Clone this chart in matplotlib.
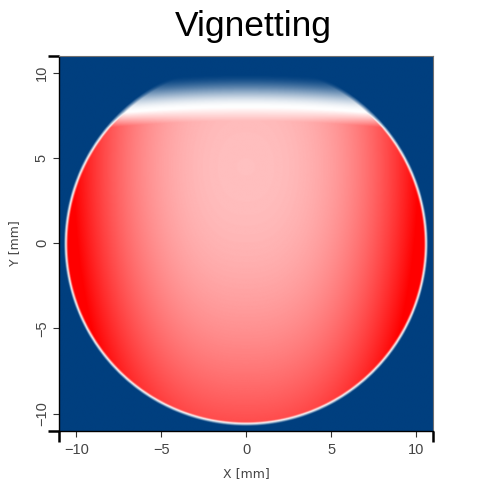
import numpy as np
import matplotlib.pyplot as plt
from matplotlib.colors import LinearSegmentedColormap

# vignetting map, described by a few values
x_range = [-11.0, 11.0]
y_range = [-11.0, 11.0]
aperture_radius = 10.6
aperture_center = [0.0, 0.0]
edge_width = 0.25
# level inside the pupil along y (x = 0) and extra rise towards the x edges
level_y = [0.29, -0.018, 0.002]       # c0 + c1*y + c2*y^2
level_x = [0.72, 10.0, 2.5]           # amp * (|x| / scale) ** power
# top clipping band: white line and upper edge (y = a + b*x^2)
cut_line = [8.0, -0.006]
cut_ramp = 0.8
band_top = [10.0, -0.008]

x_ticks = [-10, -5, 0, 5, 10]
y_ticks = [-10, -5, 0, 5, 10]

n = 700
xs = np.linspace(x_range[0], x_range[1], n)
ys = np.linspace(y_range[0], y_range[1], n)
X, Y = np.meshgrid(xs, ys)

base = level_y[0] + level_y[1] * Y + level_y[2] * Y ** 2
base += level_x[0] * (np.abs(X) / level_x[1]) ** level_x[2]

y_cut = cut_line[0] + cut_line[1] * X ** 2
y_top = band_top[0] + band_top[1] * X ** 2
below = np.clip((y_cut - Y) / cut_ramp, 0, 1)
t = np.clip((Y - y_cut) / (y_top - y_cut), 0, 1)
above = 3 * t ** 2 - 2 * t ** 3
u = np.where(Y < y_cut, base * below, -above)

r = np.hypot(X - aperture_center[0], Y - aperture_center[1])
m = np.clip(0.5 + (aperture_radius - r) / edge_width, 0, 1)
v = (u + 1) * m - 1

cmap = LinearSegmentedColormap.from_list("vig", ["#003F7F", "#FFFFFF", "#FF0000"])

fig = plt.figure(figsize=(4.87, 4.94), dpi=100)
ax = fig.add_axes([0.1218, 0.1281, 0.7679, 0.7591])
ax.imshow(v, cmap=cmap, vmin=-1, vmax=1, origin="lower",
          extent=[x_range[0], x_range[1], y_range[0], y_range[1]],
          interpolation="bilinear", aspect="auto")
ax.set_xlim(x_range)
ax.set_ylim(y_range)

ax.set_xticks(x_ticks)
ax.set_yticks(y_ticks)
ax.set_xticks(x_range, minor=True)
ax.set_yticks(y_range, minor=True)
ax.tick_params(which="major", direction="out", length=4, width=0.8,
               color="#333333", labelcolor="#444444", labelsize=10.5)
ax.tick_params(which="minor", direction="out", length=8, width=1.8,
               color="black")
ax.tick_params(axis="x", which="major", pad=5)
for lab in ax.get_yticklabels():
    lab.set_rotation(90)
    lab.set_va("center")
for lab in ax.get_xticklabels() + ax.get_yticklabels():
    lab.set_family("Liberation Sans")

for side in ["top", "right"]:
    ax.spines[side].set_color("#707070")
    ax.spines[side].set_linewidth(0.8)
for side in ["left", "bottom"]:
    ax.spines[side].set_color("black")
    ax.spines[side].set_linewidth(1.0)

ax.set_xlabel("X [mm]", fontsize=9, color="#444444", family="DejaVu Sans",
              labelpad=7)
ax.set_ylabel("Y [mm]", fontsize=9, color="#444444", family="DejaVu Sans",
              labelpad=10)

fig.text(0.52, 0.927, "Vignetting", fontsize=25.5, family="Liberation Sans",
         ha="center", va="baseline")

fig.savefig("out.png", dpi=100)
